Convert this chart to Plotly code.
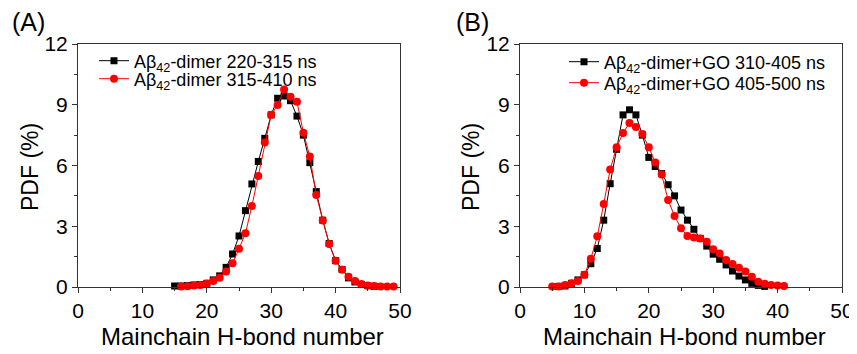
import plotly.graph_objects as go

# Panel A data
a_black_x = list(range(15, 47))
a_black_y = [0.05, 0.05, 0.07, 0.1, 0.12, 0.18, 0.35, 0.55, 0.97, 1.63, 2.52, 3.77, 5.09, 6.2, 7.34, 8.5,
             9.32, 9.43, 9.2, 8.44, 7.5, 6.14, 4.71, 3.3, 2.15, 1.3, 0.87, 0.45, 0.25, 0.12, 0.06, 0.03]
a_red_x = list(range(16, 50))
a_red_y = [0.02, 0.04, 0.08, 0.1, 0.17, 0.3, 0.46, 0.76, 1.17, 1.89, 2.65, 4.0, 5.48, 7.13, 8.5, 8.99,
           9.75, 9.4, 9.15, 7.62, 6.44, 4.54, 3.28, 2.12, 1.3, 0.85, 0.5, 0.3, 0.15, 0.08, 0.05, 0.03, 0.03, 0.02]

# Panel B data
b_black_x = list(range(6, 39))
b_black_y = [0.03, 0.05, 0.18, 0.35, 0.6, 1.15, 1.9, 3.3, 5.1, 6.8, 8.5, 8.75, 8.5, 7.5, 6.4, 5.95, 5.6,
             5.05, 4.5, 3.8, 3.3, 2.85, 2.4, 2.02, 1.62, 1.37, 1.09, 0.79, 0.54, 0.35, 0.18, 0.08, 0.03]
b_red_x = list(range(5, 42))
b_red_y = [0.02, 0.03, 0.1, 0.18, 0.3, 0.6, 1.4, 2.5, 4.1, 5.8, 6.9, 7.6, 8.1, 7.9, 7.55, 6.9, 6.15, 5.55,
           4.3, 3.5, 2.9, 2.52, 2.45, 2.4, 2.24, 1.86, 1.66, 1.33, 1.14, 0.95, 0.76, 0.51, 0.26, 0.16, 0.1,
           0.07, 0.05]

names_a = ["Aβ<sub>42</sub>-dimer 220-315 ns", "Aβ<sub>42</sub>-dimer 315-410 ns"]
names_b = ["Aβ<sub>42</sub>-dimer+GO 310-405 ns", "Aβ<sub>42</sub>-dimer+GO 405-500 ns"]
x_ticks = [0, 10, 20, 30, 40, 50]
y_ticks = [0, 3, 6, 9, 12]
x_title = "Mainchain H-bond number"
y_title = "PDF (%)"
panel_labels = ["(A)", "(B)"]

FONT = "Liberation Sans, Arial, sans-serif"
OFF = 8  # default page body margin
W, H = 857 - OFF, 354 - OFF


def px(v):
    return (v - OFF) / W


def py(v):
    return 1 - (v - OFF) / H


fig = go.Figure()
blk = dict(color="black", width=1)
red = dict(color="#ff0000", width=1)
fig.add_trace(go.Scatter(x=a_black_x, y=a_black_y, mode="lines+markers", name=names_a[0],
                         line=blk, marker=dict(symbol="square", size=7, color="black"),
                         cliponaxis=False, xaxis="x", yaxis="y", legend="legend"))
fig.add_trace(go.Scatter(x=a_red_x, y=a_red_y, mode="lines+markers", name=names_a[1],
                         line=red, marker=dict(symbol="circle", size=8, color="#ff0000"),
                         cliponaxis=False, xaxis="x", yaxis="y", legend="legend2"))
fig.add_trace(go.Scatter(x=b_black_x, y=b_black_y, mode="lines+markers", name=names_b[0],
                         line=blk, marker=dict(symbol="square", size=7, color="black"),
                         cliponaxis=False, xaxis="x2", yaxis="y2", legend="legend3"))
fig.add_trace(go.Scatter(x=b_red_x, y=b_red_y, mode="lines+markers", name=names_b[1],
                         line=red, marker=dict(symbol="circle", size=8, color="#ff0000"),
                         cliponaxis=False, xaxis="x2", yaxis="y2", legend="legend4"))

ax_common = dict(showline=True, linecolor="#333333", linewidth=1, mirror=True, ticks="outside",
                 ticklen=5, tickcolor="#333333", showgrid=False, zeroline=False, automargin=False,
                 tickfont=dict(family=FONT, size=21, color="black"))
xcommon = dict(ax_common, range=[0, 50], tickvals=x_ticks,
               minor=dict(ticks="outside", ticklen=3, dtick=5, tick0=0, tickcolor="#333333"))
ycommon = dict(ax_common, range=[0, 12], tickvals=y_ticks,
               minor=dict(ticks="outside", ticklen=3, dtick=1.5, tick0=0, tickcolor="#333333"))

yd = [py(287), py(44)]


def leg(xpx, ypx):
    return dict(x=px(xpx), y=py(ypx), xanchor="left", yanchor="middle", bgcolor="rgba(0,0,0,0)",
                font=dict(family=FONT, size=18, color="black"), itemwidth=30,
                borderwidth=0)


def ann(text, xpx, ypx, size, angle=0, xanchor="center"):
    return dict(text=text, x=px(xpx), y=py(ypx), xref="paper", yref="paper", xanchor=xanchor,
                yanchor="middle", showarrow=False, textangle=angle,
                font=dict(family=FONT, size=size, color="black"))


fig.update_layout(
    width=W, height=H, margin=dict(l=0, r=0, t=0, b=0, autoexpand=False),
    paper_bgcolor="white", plot_bgcolor="white", showlegend=True,
    xaxis=dict(xcommon, domain=[px(78), px(400)], anchor="y"),
    yaxis=dict(ycommon, domain=yd, anchor="x"),
    xaxis2=dict(xcommon, domain=[px(520), px(842)], anchor="y2"),
    yaxis2=dict(ycommon, domain=yd, anchor="x2"),
    legend=leg(94, 61),
    legend2=leg(94, 79),
    legend3=leg(564, 62),
    legend4=leg(564, 83),
    annotations=[
        ann(panel_labels[0], 10, 22, 25, xanchor="left"),
        ann(panel_labels[1], 454, 22, 25, xanchor="left"),
        ann(x_title, 242, 336, 24),
        ann(x_title, 684, 336, 24),
        ann(y_title, 30, 167, 23, angle=-90),
        ann(y_title, 471, 167, 23, angle=-90),
    ],
)

fig.write_html("out.html")
